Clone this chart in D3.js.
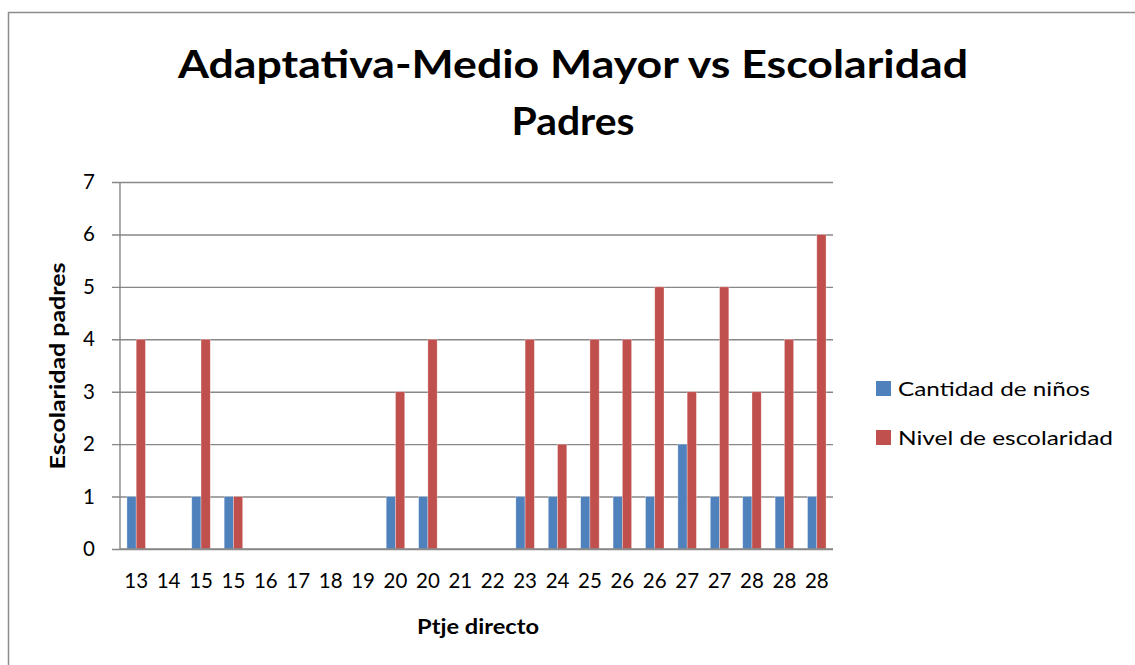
<!DOCTYPE html>
<html>
<head>
<meta charset="utf-8">
<script src="https://cdn.jsdelivr.net/npm/d3@7"></script>
<style>
  body { margin: 0; background: #ffffff; }
  svg { display: block; font-family: Lato, "Open Sans", sans-serif; }
</style>
</head>
<body>
<svg width="1135" height="665"></svg>
<script>
// chart data
const categories = ["13", "14", "15", "15", "16", "17", "18", "19", "20", "20", "21",
  "22", "23", "24", "25", "26", "26", "27", "27", "28", "28", "28"];
const cantidadNinos = [1, 0, 1, 1, 0, 0, 0, 0, 1, 1, 0, 0, 1, 1, 1, 1, 1, 2, 1, 1, 1, 1];
const nivelEscolaridad = [4, 0, 4, 1, 0, 0, 0, 0, 3, 4, 0, 0, 4, 2, 4, 4, 5, 3, 5, 3, 4, 6];
const seriesNames = ["Cantidad de niños", "Nivel de escolaridad"];
const seriesColors = ["#4F81BD", "#C0504D"];
const yTicks = [0, 1, 2, 3, 4, 5, 6, 7];

const svg = d3.select("svg");

// plot area
const plotLeft = 120, plotRight = 833, plotTop = 182, plotBottom = 549;

// outer frame (only left and top edges show in the window)
svg.append("rect")
  .attr("x", 8.5)
  .attr("y", 12.5)
  .attr("width", 1200)
  .attr("height", 700)
  .attr("fill", "none")
  .attr("stroke", "#8c8c8c")
  .attr("stroke-width", 1.5);

// squeeze a text to a given width
function fit(sel, w) {
  sel.attr("textLength", w).attr("lengthAdjust", "spacingAndGlyphs");
}

// title
svg.append("text")
  .attr("x", 573)
  .attr("y", 78)
  .attr("text-anchor", "middle")
  .attr("font-size", 39)
  .attr("font-weight", "bold")
  .text("Adaptativa-Medio Mayor vs Escolaridad")
  .call(fit, 790);
svg.append("text")
  .attr("x", 573)
  .attr("y", 135)
  .attr("text-anchor", "middle")
  .attr("font-size", 39)
  .attr("font-weight", "bold")
  .text("Padres")
  .call(fit, 123);

// scales
const x = d3.scaleBand()
  .domain(categories.map((d, i) => i))
  .range([plotLeft, plotRight])
  .paddingInner(1.5 / 3.5)
  .paddingOuter(0.75 / 3.5);

const xs = d3.scaleBand()
  .domain([0, 1])
  .range([0, x.bandwidth()]);

const y = d3.scaleLinear()
  .domain([0, 7])
  .range([plotBottom, plotTop]);

// gridlines with small ticks left of the axis
const yAxis = d3.axisLeft(y)
  .tickValues(yTicks)
  .tickSize(-(plotRight - plotLeft) - 8)
  .tickPadding(16)
  .tickFormat(d3.format("d"));

const gy = svg.append("g")
  .attr("transform", `translate(${plotRight}, 0)`)
  .call(yAxis);
gy.select(".domain").remove();
gy.selectAll(".tick line")
  .attr("x2", -(plotRight - plotLeft) - 8)
  .attr("stroke", "#878787")
  .attr("stroke-width", 1.4);
gy.selectAll(".tick text")
  .attr("x", -(plotRight - plotLeft) - 25)
  .attr("text-anchor", "end")
  .attr("font-size", 20.5)
  .attr("font-family", "Lato, sans-serif")
  .attr("fill", "#000");

// vertical axis line
svg.append("line")
  .attr("x1", plotLeft)
  .attr("x2", plotLeft)
  .attr("y1", plotTop)
  .attr("y2", plotBottom)
  .attr("stroke", "#878787")
  .attr("stroke-width", 1.4);

// bars
const rows = categories.map((c, i) => [cantidadNinos[i], nivelEscolaridad[i]]);
const groups = svg.append("g")
  .selectAll("g")
  .data(rows)
  .enter()
  .append("g")
  .attr("transform", (d, i) => `translate(${x(i)}, 0)`);

groups.selectAll("rect")
  .data(d => d.map((v, s) => ({ v: v, s: s })).filter(e => e.v > 0))
  .enter()
  .append("rect")
  .attr("x", d => xs(d.s))
  .attr("y", d => y(d.v))
  .attr("width", xs.bandwidth())
  .attr("height", d => y(0) - y(d.v))
  .attr("fill", d => seriesColors[d.s])
  .attr("stroke", "rgba(255,255,255,0.45)")
  .attr("stroke-width", 0.7);

// x axis
const xAxis = d3.axisBottom(x)
  .tickSize(0)
  .tickPadding(24)
  .tickFormat(i => categories[i]);

const gx = svg.append("g")
  .attr("transform", `translate(0, ${plotBottom})`)
  .call(xAxis);
gx.select(".domain")
  .attr("stroke", "#878787")
  .attr("stroke-width", 1.4)
  .attr("d", `M${plotLeft},0H${plotRight}`);
gx.selectAll(".tick text")
  .attr("font-size", 20.5)
  .attr("font-family", "Lato, sans-serif")
  .attr("fill", "#000");

// axis titles
svg.append("text")
  .attr("x", 478)
  .attr("y", 634)
  .attr("text-anchor", "middle")
  .attr("font-size", 20)
  .attr("font-weight", "bold")
  .text("Ptje directo")
  .call(fit, 122);
svg.append("text")
  .attr("transform", "translate(65, 366) rotate(-90)")
  .attr("text-anchor", "middle")
  .attr("font-size", 20)
  .attr("font-weight", "bold")
  .text("Escolaridad padres")
  .call(fit, 207);

// legend
const legend = svg.append("g")
  .selectAll("g")
  .data(seriesNames)
  .enter()
  .append("g")
  .attr("transform", (d, i) => `translate(876, ${381 + i * 49})`);
legend.append("rect")
  .attr("width", 15)
  .attr("height", 15)
  .attr("fill", (d, i) => seriesColors[i]);
legend.append("text")
  .attr("x", 22)
  .attr("y", 15)
  .attr("font-size", 20)
  .text(d => d)
  .each(function (d, i) { d3.select(this).call(fit, i == 0 ? 192 : 215); });
</script>
</body>
</html>
